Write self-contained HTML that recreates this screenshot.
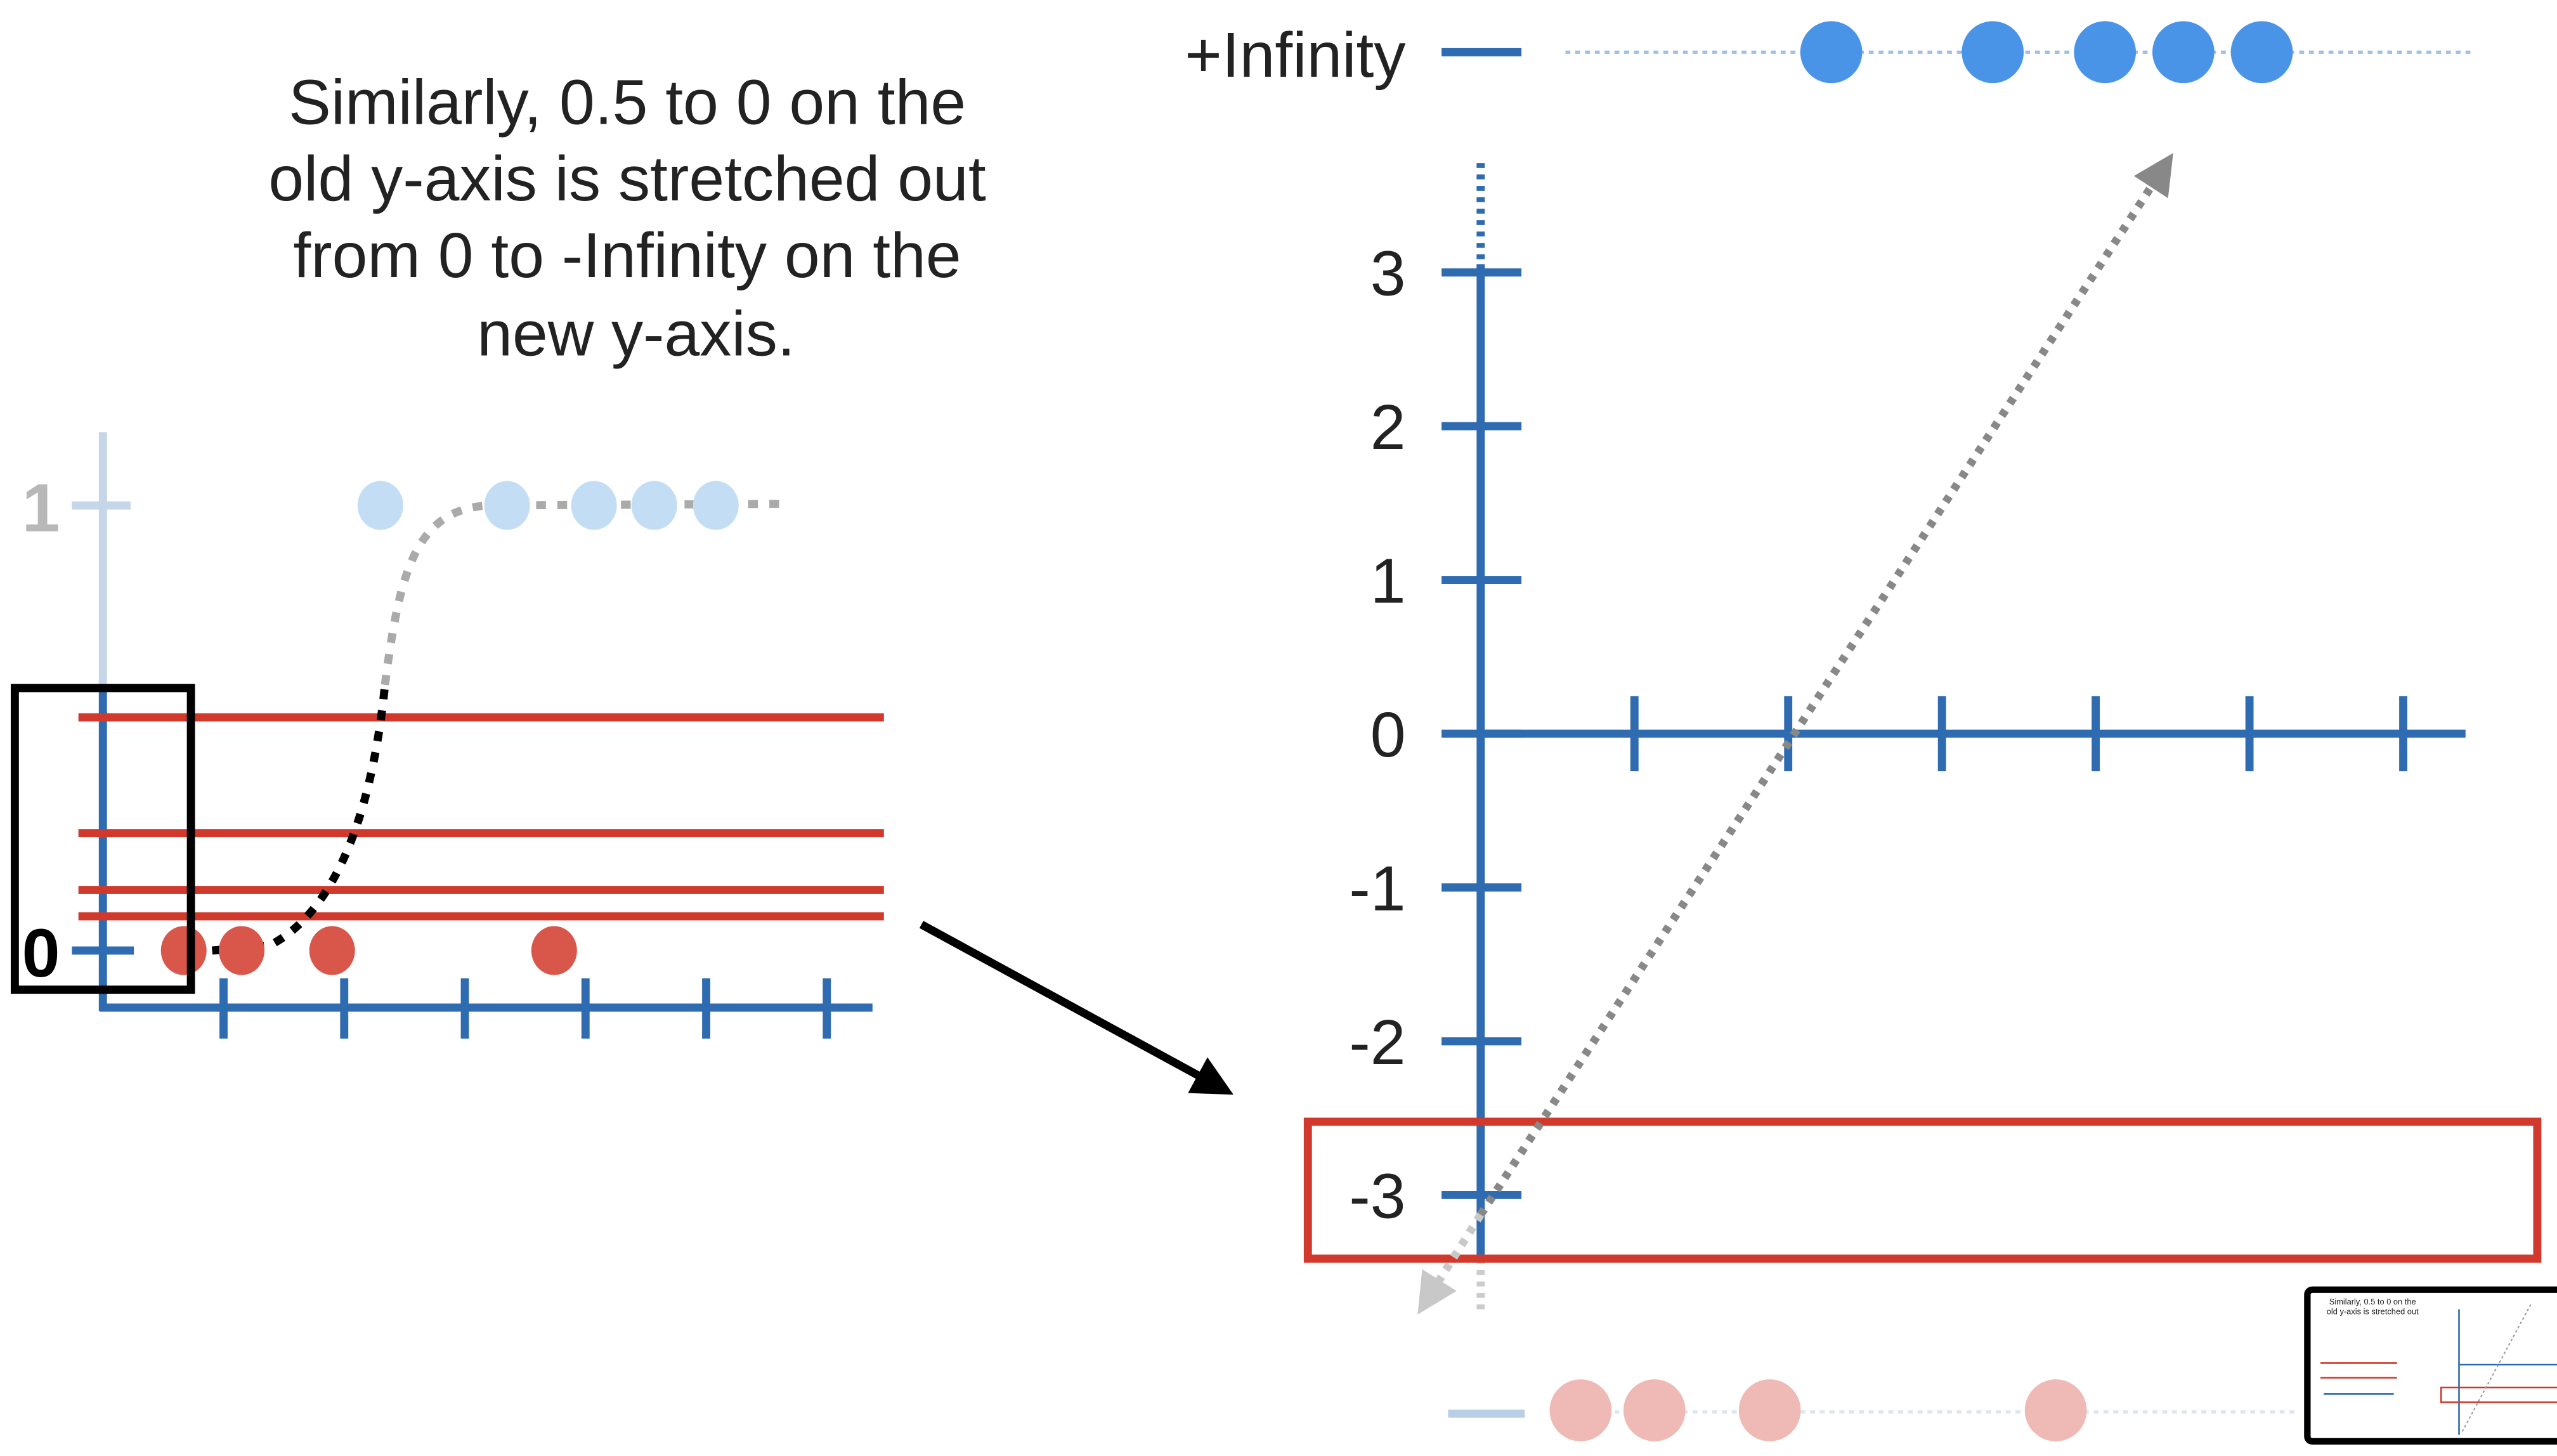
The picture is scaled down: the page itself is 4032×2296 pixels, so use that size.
<!DOCTYPE html>
<html><head><meta charset="utf-8"><style>
html,body{margin:0;padding:0;background:#fff;}
svg{display:block;}
text{font-family:"Liberation Sans",sans-serif;}
</style></head><body>
<svg id="c" width="4032" height="2296" viewBox="0 0 1568 893" xmlns="http://www.w3.org/2000/svg">
<defs>
<marker id="ah" markerWidth="5" markerHeight="5" refX="4" refY="2.5" orient="auto" markerUnits="strokeWidth"><path d="M0,0 L5,2.5 L0,5 z" fill="#000"/></marker>
<marker id="ag" markerWidth="5" markerHeight="5" refX="4" refY="2.5" orient="auto" markerUnits="strokeWidth"><path d="M0,0 L5,2.5 L0,5 z" fill="#888"/></marker>
<marker id="agl" markerWidth="5" markerHeight="5" refX="4" refY="2.5" orient="auto" markerUnits="strokeWidth"><path d="M0,0 L5,2.5 L0,5 z" fill="#c8c8c8"/></marker>
</defs>
<text font-size="39" fill="#222" text-anchor="middle">
<tspan x="390" y="76">Similarly, 0.5 to 0 on the</tspan>
<tspan x="390" y="123">old y-axis is stretched out</tspan>
<tspan x="390" y="170">from 0 to -Infinity on the</tspan>
<tspan x="390" y="218">new y-axis.</tspan>
</text>
<g id="left"></g>
<g id="right"></g>
<g>
<rect x="1415" y="791" width="160" height="93" fill="#fff" stroke="#000" stroke-width="4" rx="3"/>
<text x="1455" y="800" font-size="5" fill="#222" text-anchor="middle">Similarly, 0.5 to 0 on the</text>
<text x="1455" y="806" font-size="5" fill="#222" text-anchor="middle">old y-axis is stretched out</text>
<line x1="1423" y1="836" x2="1470" y2="836" stroke="#d0392b" stroke-width="1"/>
<line x1="1423" y1="845" x2="1470" y2="845" stroke="#d0392b" stroke-width="1"/>
<line x1="1425" y1="855" x2="1468" y2="855" stroke="#2e6bb0" stroke-width="1"/>
<line x1="1508" y1="803" x2="1508" y2="880" stroke="#2e6bb0" stroke-width="1"/>
<line x1="1508" y1="837" x2="1570" y2="837" stroke="#2e6bb0" stroke-width="1"/>
<rect x="1497" y="851" width="75" height="9" fill="none" stroke="#d0392b" stroke-width="1"/>
<line x1="1510" y1="878" x2="1552" y2="800" stroke="#999" stroke-width="0.8" stroke-dasharray="1.5 1.5"/>
</g>
</svg>
<script>
// Left chart data
const leftXTicks = [1,2,3,4,5,6];
const leftBlueX = [2.3,3.35,4.07,4.57,5.08];
const leftRedX = [0.67,1.15,1.9,3.74];
const redLineY = [0.524,0.264,0.136,0.077];
// Right chart data
const rightYTicks = [3,2,1,0,-1,-2,-3];
const rightXTicks = [1,2,3,4,5,6];
const rightBlueX = [2.28,3.33,4.06,4.57,5.08];
const rightPinkX = [0.65,1.13,1.88,3.74];

const NS='http://www.w3.org/2000/svg';
function mk(parent,tag,attrs,txt){const e=document.createElementNS(NS,tag);for(const k in attrs)e.setAttribute(k,attrs[k]);if(txt!==undefined)e.textContent=txt;parent.appendChild(e);return e;}
const L=document.getElementById('left'), R=document.getElementById('right');
const lx=v=>63+v*74, ly=v=>583-v*273;
const BLUE='#2e6bb0', RED='#d0392b';
let e;
e=mk(L,'line',{x1:63,y1:265,x2:63,y2:420,stroke:'#c5d6e8','stroke-width':5});


e=mk(L,'line',{x1:63,y1:420,x2:63,y2:620,stroke:BLUE,'stroke-width':5});


e=mk(L,'line',{x1:61,y1:618,x2:535,y2:618,stroke:BLUE,'stroke-width':5});


leftXTicks.forEach(t=>{e=mk(L,'line',{x1:lx(t),y1:600,x2:lx(t),y2:637,stroke:BLUE,'stroke-width':5});

});
e=mk(L,'line',{x1:44,y1:ly(1),x2:80,y2:ly(1),stroke:'#c5d6e8','stroke-width':5});


e=mk(L,'text',{x:25,y:ly(1)+16,'font-size':42,'font-weight':'bold',fill:'#b8b8b8','text-anchor':'middle'},'1');


e=mk(L,'line',{x1:44,y1:ly(0),x2:82,y2:ly(0),stroke:BLUE,'stroke-width':5});


e=mk(L,'text',{x:25,y:ly(0)+16,'font-size':42,'font-weight':'bold',fill:'#000','text-anchor':'middle'},'0');


redLineY.forEach(v=>{e=mk(L,'line',{x1:48,y1:ly(v),x2:542,y2:ly(v),stroke:RED,'stroke-width':5});

});
e=mk(L,'path',{d:'M236,420 C245,350 255,312 300,310 L480,309',fill:'none',stroke:'#aaa','stroke-width':5,'stroke-dasharray':'6 7'});


e=mk(L,'path',{d:'M130,583 L165,580 C205,560 228,500 236,420',fill:'none',stroke:'#000','stroke-width':5,'stroke-dasharray':'6 7'});


leftBlueX.forEach(v=>{e=mk(L,'ellipse',{cx:lx(v),cy:ly(1),rx:14,ry:15,fill:'#c3ddf5'});

});
leftRedX.forEach(v=>{e=mk(L,'ellipse',{cx:lx(v),cy:ly(0),rx:14,ry:15,fill:'#d9564a'});

});
e=mk(L,'rect',{x:9,y:422,width:108,height:185,fill:'none',stroke:'#000','stroke-width':5});


e=mk(L,'line',{x1:565,y1:567,x2:752,y2:669,stroke:'#000','stroke-width':5,'marker-end':'url(#ah)'});


const rx=v=>908+v*94.3, ry=v=>450-v*94.3;
e=mk(R,'line',{x1:rx(0),y1:100,x2:rx(0),y2:165,stroke:BLUE,'stroke-width':5,'stroke-dasharray':'3 4'});


e=mk(R,'line',{x1:rx(0),y1:772,x2:rx(0),y2:805,stroke:'#ccc','stroke-width':5,'stroke-dasharray':'3 4'});


e=mk(R,'line',{x1:rx(0),y1:162,x2:rx(0),y2:772,stroke:BLUE,'stroke-width':5});


e=mk(R,'line',{x1:rx(0),y1:ry(0),x2:1512,y2:ry(0),stroke:BLUE,'stroke-width':5});


rightXTicks.forEach(t=>{e=mk(R,'line',{x1:rx(t),y1:427,x2:rx(t),y2:473,stroke:BLUE,'stroke-width':5});

});
rightYTicks.forEach(t=>{e=mk(R,'line',{x1:884,y1:ry(t),x2:933,y2:ry(t),stroke:BLUE,'stroke-width':5});


e=mk(R,'text',{x:862,y:ry(t)+14,'font-size':39,fill:'#222','text-anchor':'end'},String(t));

});
e=mk(R,'rect',{x:802,y:688,width:754,height:84,fill:'none',stroke:RED,'stroke-width':5});


e=mk(R,'line',{x1:908,y1:745,x2:1330,y2:98,stroke:'#888','stroke-width':5,'stroke-dasharray':'4 5','marker-end':'url(#ag)'});


e=mk(R,'line',{x1:908,y1:745,x2:872,y2:802,stroke:'#c8c8c8','stroke-width':5,'stroke-dasharray':'4 5','marker-end':'url(#agl)'});


e=mk(R,'text',{x:862,y:47,'font-size':39,fill:'#222','text-anchor':'end'},'+Infinity');


e=mk(R,'line',{x1:884,y1:32,x2:933,y2:32,stroke:BLUE,'stroke-width':5});


e=mk(R,'line',{x1:960,y1:32,x2:1515,y2:32,stroke:'#9dc0e6','stroke-width':2,'stroke-dasharray':'3 3'});


rightBlueX.forEach(v=>{e=mk(R,'circle',{cx:rx(v),cy:32,r:19,fill:'#4a94e8'});

});
e=mk(R,'line',{x1:888,y1:867,x2:935,y2:867,stroke:'#b9cfe6','stroke-width':5});


e=mk(R,'line',{x1:960,y1:866,x2:1410,y2:866,stroke:'#dde6f0','stroke-width':2,'stroke-dasharray':'3 3'});


rightPinkX.forEach(v=>{e=mk(R,'circle',{cx:rx(v),cy:865,r:19,fill:'#efbab5'});

});
</script>
</body></html>
